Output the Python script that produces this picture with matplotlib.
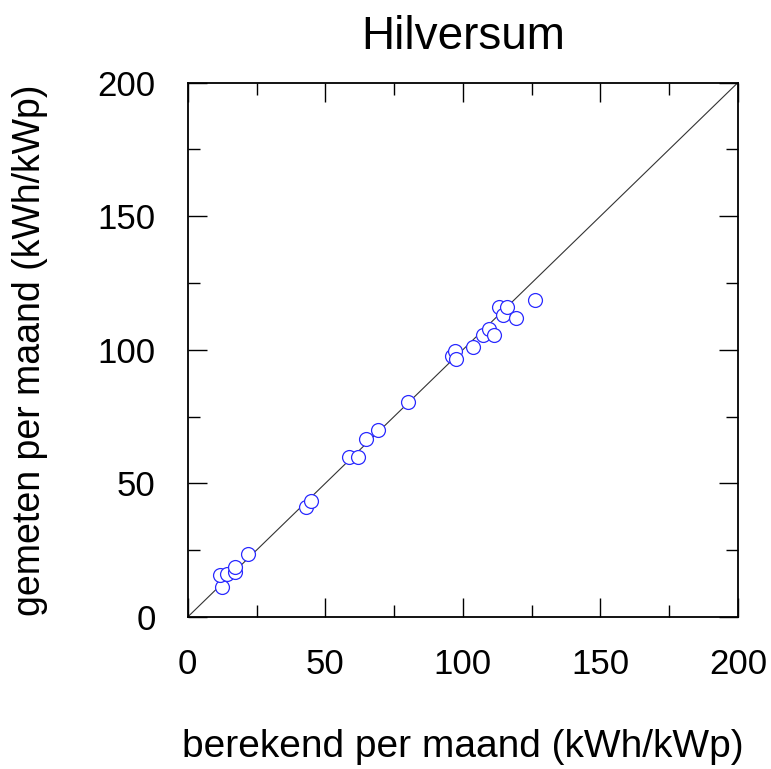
import matplotlib
matplotlib.use('Agg')
import matplotlib.pyplot as plt
from matplotlib.ticker import MultipleLocator

# monthly yield, calculated vs measured (kWh/kWp)
berekend = [12.4, 11.7, 14.2, 17.2, 17.2, 22.0,
            43.0, 44.8, 58.6, 62.0, 64.8, 69.0, 80.2,
            95.9, 97.1, 97.5, 103.8, 107.2, 109.6, 111.4,
            113.2, 114.7, 116.2, 119.3, 126.3]
gemeten = [11.3, 15.7, 16.1, 16.7, 18.8, 23.5,
           41.3, 43.5, 59.8, 59.8, 66.6, 70.0, 80.6,
           97.7, 99.7, 96.5, 101.0, 105.6, 107.7, 105.6,
           115.9, 113.0, 115.9, 112.0, 118.7]
lim = [0, 200]
ticks = [0, 50, 100, 150, 200]

plt.rcParams['font.family'] = ['Liberation Sans', 'DejaVu Sans']

fig = plt.figure(figsize=(7.71, 7.69), dpi=100)
ax = fig.add_axes([0.2435, 0.1977, 0.7135, 0.6948])

ax.plot(lim, lim, color='#333333', lw=0.8, zorder=1)
ax.plot(berekend, gemeten, 'o', ms=10, mfc='white', mec='#2a2aff', mew=0.9, zorder=2)

ax.set_xlim(lim)
ax.set_ylim(lim)
ax.set_xticks(ticks)
ax.set_yticks(ticks)
ax.xaxis.set_minor_locator(MultipleLocator(25))
ax.yaxis.set_minor_locator(MultipleLocator(25))
ax.tick_params(which='both', direction='in', top=True, right=True, labelsize=25, width=1)
ax.tick_params(which='major', length=14, pad=22)
ax.tick_params(which='minor', length=8.5)
ax.tick_params(axis='y', pad=23)
for s in ax.spines.values():
    s.set_linewidth(1.3)

ax.set_title('Hilversum', fontsize=33, pad=24)
ax.set_xlabel('berekend per maand (kWh/kWp)', fontsize=28, labelpad=35)
ax.set_ylabel('gemeten per maand (kWh/kWp)', fontsize=27, labelpad=36)

fig.savefig('out.png', dpi=100)
